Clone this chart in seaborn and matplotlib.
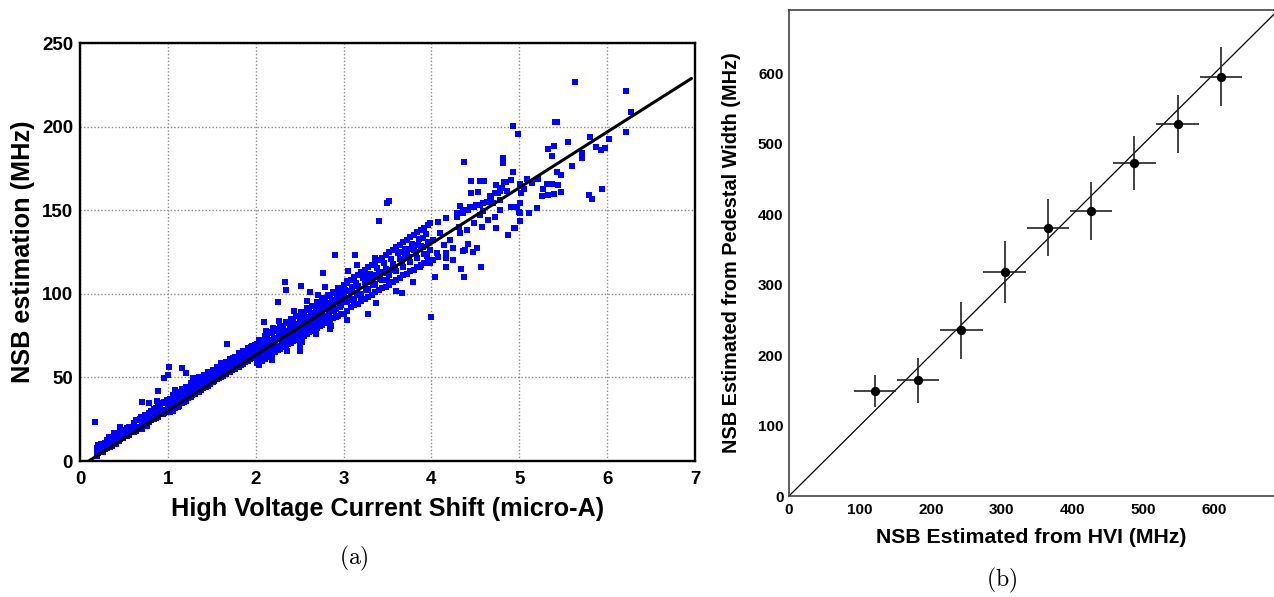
import matplotlib
matplotlib.use("Agg")
import matplotlib.pyplot as plt
import seaborn as sns
import pandas as pd
from matplotlib.ticker import MultipleLocator

# ---------------- data: panel (a) ----------------
band_low = [(0.19,6.5),(0.19,3.0),(0.21,9.3),(0.21,5.5),(0.24,6.5),(0.24,10.0),(0.26,5.1),(0.26,8.3),(0.29,11.0),(0.29,7.1),
    (0.31,7.7),(0.31,12.3),(0.34,11.0),(0.34,8.6),(0.36,13.7),(0.36,9.1),(0.39,13.9),(0.39,10.8),(0.41,10.1),(0.41,15.4),
    (0.44,14.6),(0.44,12.0),(0.46,16.5),(0.46,13.3),(0.49,18.3),(0.49,13.7),(0.51,17.6),(0.51,15.2),(0.54,19.6),(0.54,15.0),
    (0.56,15.3),(0.56,20.3),(0.59,20.0),(0.59,17.5),(0.61,22.6),(0.61,17.3),(0.64,18.2),(0.64,24.5),(0.66,24.3),(0.66,19.0),
    (0.69,26.2),(0.69,20.4),(0.71,23.8),(0.71,19.3),(0.74,27.5),(0.74,21.7),(0.76,20.8),(0.76,26.8),(0.79,28.6),(0.79,23.2),
    (0.81,29.9),(0.81,24.4),(0.84,25.1),(0.84,31.0),(0.86,31.8),(0.86,25.6),(0.89,26.1),(0.89,32.4),(0.91,32.8),(0.91,28.5),
    (0.94,34.4),(0.94,27.9),(0.96,29.0),(0.96,35.0),(0.99,36.5),(0.99,30.6),(1.01,35.2),(1.01,29.6),
    (0.20,4.5),(0.25,7.0),(0.30,9.0),(0.35,10.0),(0.40,12.5),(0.45,13.5),(0.50,16.0),(0.55,17.0),(0.60,19.5),(0.65,20.5),
    (0.70,22.5),(0.75,24.0),(0.80,26.0),(0.85,27.5),(0.90,29.5),(0.95,30.5),(1.00,33.0)]

band_b = [(1.03,36.8),(1.03,29.5),(1.03,34.5),(1.06,30.0),(1.06,39.5),(1.06,33.5),(1.08,38.0),(1.08,31.5),(1.08,36.0),
    (1.11,32.0),(1.11,41.0),(1.11,35.5),(1.13,40.5),(1.13,33.0),(1.13,37.5),(1.16,34.5),(1.16,43.0),(1.16,38.5),(1.18,41.5),
    (1.18,35.0),(1.18,39.5),(1.21,36.0),(1.21,44.5),(1.21,40.0),(1.23,43.5),(1.23,37.5),(1.23,41.0),(1.26,38.0),(1.26,46.5),
    (1.26,42.0),(1.28,45.5),(1.28,39.5),(1.28,42.5),(1.31,40.0),(1.31,48.0),(1.31,44.0),(1.33,47.0),(1.33,41.0),(1.33,44.5),
    (1.36,41.5),(1.36,50.0),(1.36,45.5),(1.38,48.5),(1.38,42.5),(1.38,46.0),(1.41,44.0),(1.41,51.5),(1.41,47.0),(1.43,50.0),
    (1.43,44.5),(1.43,47.5),(1.46,45.0),(1.46,53.0),(1.46,49.0),(1.48,52.0),(1.48,46.0),(1.48,49.5),(1.51,47.0),(1.51,54.5),
    (1.51,50.5),(1.53,53.5),(1.53,48.0),(1.53,51.0),(1.56,49.0),(1.56,56.0),(1.56,52.0),(1.58,55.0),(1.58,49.5),(1.58,53.0),
    (1.61,50.5),(1.61,58.0),(1.61,54.0),(1.63,57.0),(1.63,51.0),(1.63,54.5),(1.66,52.0),(1.66,59.5),(1.66,55.5),(1.68,58.5),
    (1.68,53.0),(1.68,56.0),(1.71,53.5),(1.71,61.0),(1.71,57.0),(1.73,60.0),(1.73,54.5),(1.73,58.0),(1.76,55.0),(1.76,62.5),
    (1.76,59.0),(1.78,61.5),(1.78,56.0),(1.78,59.5),(1.81,56.5),(1.81,64.5),(1.81,60.5),(1.83,63.5),(1.83,57.5),(1.83,61.0),
    (1.86,58.0),(1.86,66.0),(1.86,62.0),(1.88,65.0),(1.88,59.0),(1.88,63.0),(1.91,60.0),(1.91,67.5),(1.91,64.0),(1.93,66.5),
    (1.93,61.0),(1.93,64.5),(1.96,61.5),(1.96,69.0),(1.96,65.5),(1.98,68.0),(1.98,62.0),(1.98,66.0),
    (1.045,35.0),(1.095,38.0),(1.145,39.0),(1.195,42.0),(1.245,43.0),(1.295,46.0),(1.345,47.5),(1.395,49.5),(1.445,51.0),
    (1.495,53.0),(1.545,54.5),(1.595,56.0),(1.645,58.0),(1.695,59.0),(1.745,61.5),(1.795,62.5),(1.845,64.5),(1.895,66.0),
    (1.945,68.0),(1.995,69.5),
    (1.045,31.5),(1.095,33.5),(1.145,35.0),(1.195,36.5),(1.245,38.5),(1.295,40.5),(1.345,42.0),(1.395,43.5),(1.445,45.5),
    (1.495,47.5),(1.545,49.0),(1.595,50.5),(1.645,52.5),(1.695,54.0),(1.745,56.0),(1.795,58.0),(1.845,59.5),(1.895,61.0),
    (1.945,63.0),(1.995,64.5)]

band_c = [(2.01,70.0),(2.01,58.5),(2.01,65.0),(2.01,61.0),(2.04,57.5),(2.04,72.5),(2.04,66.0),(2.07,71.0),(2.07,60.0),
    (2.07,67.5),(2.07,63.5),(2.10,61.0),(2.10,75.0),(2.10,68.0),(2.13,74.0),(2.13,62.5),(2.13,69.5),(2.13,65.0),(2.16,63.0),
    (2.16,77.0),(2.16,70.0),(2.19,76.5),(2.19,64.0),(2.19,71.5),(2.19,67.0),(2.22,65.0),(2.22,79.0),(2.22,72.0),(2.25,78.0),
    (2.25,66.5),(2.25,73.0),(2.25,69.0),(2.28,67.0),(2.28,81.0),(2.28,74.5),(2.31,80.0),(2.31,68.0),(2.31,75.0),(2.31,71.5),
    (2.34,69.0),(2.34,83.0),(2.34,76.5),(2.37,82.5),(2.37,70.0),(2.37,77.0),(2.37,73.0),(2.40,70.5),(2.40,85.0),(2.40,78.5),
    (2.43,84.5),(2.43,72.0),(2.43,79.0),(2.43,75.5),(2.46,72.5),(2.46,87.0),(2.46,80.5),(2.49,86.5),(2.49,73.5),(2.49,81.0),
    (2.49,77.0),(2.52,74.0),(2.52,89.0),(2.52,82.5),(2.55,88.0),(2.55,75.0),(2.55,83.0),(2.55,79.5),(2.58,76.0),(2.58,91.5),
    (2.58,84.5),(2.61,90.5),(2.61,77.0),(2.61,85.0),(2.61,81.5),(2.64,78.0),(2.64,93.0),(2.64,86.5),(2.67,92.5),(2.67,79.0),
    (2.67,87.0),(2.67,83.0),(2.70,79.5),(2.70,95.0),(2.70,88.5),(2.73,94.5),(2.73,81.0),(2.73,89.0),(2.73,85.5),(2.76,81.5),
    (2.76,97.5),(2.76,90.5),(2.79,96.5),(2.79,82.5),(2.79,91.0),(2.79,87.0),(2.82,83.5),(2.82,99.0),(2.82,92.5),(2.85,98.5),
    (2.85,84.5),(2.85,93.0),(2.85,89.5),(2.88,85.5),(2.88,101.0),(2.88,94.5),(2.91,100.5),(2.91,86.0),(2.91,95.0),(2.91,91.0),
    (2.94,87.0),(2.94,103.5),(2.94,96.5),(2.97,102.5),(2.97,88.0),(2.97,97.0),(2.97,93.5),
    (2.025,68.0),(2.085,70.0),(2.145,72.5),(2.205,73.5),(2.265,76.5),(2.325,78.0),(2.385,80.5),(2.445,82.0),(2.505,84.5),
    (2.565,86.0),(2.625,88.5),(2.685,90.0),(2.745,92.5),(2.805,94.5),(2.865,96.5),(2.925,98.5),(2.985,100.0),
    (2.055,62.0),(2.115,64.0),(2.175,66.0),(2.235,68.0),(2.295,70.0),(2.355,72.0),(2.415,74.0),(2.475,76.0),(2.535,78.0),
    (2.595,80.0),(2.655,82.0),(2.715,84.0),(2.775,86.0),(2.835,88.0),(2.895,90.0),(2.955,92.0),
    (2.12,77.5),(2.27,84.0),(2.44,89.5),(2.58,95.5),(2.71,99.0),(2.18,60.5),(2.36,66.0),(2.53,71.0),(2.69,76.0),(2.86,81.0)]

band_d = [(3.00,105.0),(3.00,88.0),(3.00,99.0),(3.04,90.0),(3.04,107.5),(3.04,95.0),(3.08,108.0),(3.08,92.0),(3.08,101.5),
    (3.12,93.5),(3.12,110.0),(3.12,97.0),(3.16,111.0),(3.16,94.0),(3.16,104.5),(3.20,95.5),(3.20,113.0),(3.20,100.0),
    (3.24,114.0),(3.24,97.0),(3.24,107.0),(3.28,98.0),(3.28,116.0),(3.28,103.0),(3.32,117.0),(3.32,99.5),(3.32,110.0),
    (3.36,101.0),(3.36,119.0),(3.36,106.0),(3.40,120.0),(3.40,102.0),(3.40,112.5),(3.44,103.5),(3.44,121.5),(3.44,108.0),
    (3.48,123.0),(3.48,104.0),(3.48,115.0),(3.52,105.5),(3.52,125.0),(3.52,111.0),(3.56,126.0),(3.56,107.0),(3.56,118.0),
    (3.60,108.0),(3.60,128.0),(3.60,113.5),(3.64,129.0),(3.64,109.5),(3.64,121.0),(3.68,111.0),(3.68,131.0),(3.68,116.0),
    (3.72,132.0),(3.72,112.0),(3.72,123.5),(3.76,113.5),(3.76,134.0),(3.76,119.0),(3.80,135.0),(3.80,114.5),(3.80,126.0),
    (3.84,116.0),(3.84,137.0),(3.84,121.5),(3.88,138.0),(3.88,117.0),(3.88,128.5),(3.92,118.5),(3.92,139.5),(3.92,124.0),
    (3.96,141.0),(3.96,120.0),(3.96,131.0),
    (3.02,102.0),(3.06,97.5),(3.10,104.0),(3.14,106.5),(3.18,99.0),(3.22,109.5),(3.26,102.0),(3.30,112.0),(3.34,105.5),
    (3.38,115.5),(3.42,109.0),(3.46,118.5),(3.50,112.5),(3.54,121.0),(3.58,116.0),(3.62,124.5),(3.66,118.5),(3.70,127.0),
    (3.74,122.0),(3.78,129.5),(3.82,125.0),(3.86,133.0),(3.90,128.0),(3.94,135.5),(3.98,126.0),
    (3.05,101.5),(3.15,100.5),(3.25,110.5),(3.35,111.0),(3.45,113.0),(3.55,114.5),(3.65,125.0),(3.75,127.0),(3.85,129.0),
    (3.95,122.5),(3.10,96.0),(3.30,107.0),(3.50,108.5),(3.70,121.5),(3.90,133.5)]

band_e = [(3.98,142.2),(4.08,143.2),(4.17,145.2),(4.29,148.2),(4.36,150.2),(4.44,151.8),(4.32,152.6),(4.51,153.2),
    (4.59,154.6),(4.67,158.2),(4.72,160.2),(4.78,161.2),(4.97,152.2),(5.00,149.0),(4.70,154.2),(4.78,150.2),(4.64,144.2),
    (4.57,140.2),(4.72,146.2),(4.55,147.0),(4.48,142.2),(4.40,138.2),(4.33,136.3),(4.31,140.2),(4.21,132.3),(4.14,129.3),
    (4.25,127.3),(4.17,124.3),(4.10,136.3),(4.06,124.3),(4.02,120.3),(3.95,118.3),(3.87,116.3),(4.17,116.3),(4.02,132.1),
    (4.29,146.2),(4.36,148.2),(4.42,150.2),(4.48,152.2),(4.55,153.2),(4.63,155.2),(4.68,157.2),(4.76,160.2),(4.80,163.2),
    (4.86,161.2),(4.78,156.2),(4.90,152.2),(4.59,149.3),(4.85,167.0),(4.17,121.3),(4.25,120.3),(4.36,125.3),(4.07,122.3),
    (3.98,118.3),(4.95,139.6)]

outliers = [(5.63,226.6),(6.22,221.0),(6.27,208.7),(6.22,196.9),(6.02,192.3),(5.97,187.5),(5.93,186.1),(5.87,187.9),
    (5.80,193.7),(5.94,162.6),(5.83,156.8),(5.79,159.2),(5.71,184.5),(5.71,181.5),(5.60,176.3),(5.56,190.7),(5.41,202.7),
    (5.43,202.7),(5.40,188.3),(5.33,186.7),(5.37,182.7),(5.43,173.1),(5.47,171.0),(5.44,164.8),(5.47,160.8),(5.39,159.4),
    (5.33,158.8),(5.26,158.2),(5.27,162.4),(5.32,165.4),(5.37,165.8),(5.20,151.2),(5.11,148.2),(5.21,168.6),(5.14,166.2),
    (5.09,168.4),(5.05,162.8),(4.93,200.1),(4.98,195.7),(5.01,165.8),(5.02,160.2),(5.01,154.2),(5.01,148.2),(5.01,143.6),
    (4.94,139.4),(4.87,135.1),(4.82,181.3),(4.82,178.2),(4.93,172.9),(4.90,168.0),(4.83,166.6),(4.74,165.0),(4.74,139.3),
    (4.56,116.3),(4.37,179.1),(4.45,167.2),(4.55,167.6),(4.60,167.6),(4.45,160.0),(4.53,160.8),(4.37,110.1),(4.52,127.6),
    (4.47,124.9),(4.04,109.9),(3.67,100.7),(4.34,115.1),(4.38,126.3),(4.42,129.7),(3.99,86.4),(3.79,107.0),(3.60,101.7),
    (3.49,154.2),(3.52,155.4),(3.40,143.6),(3.13,123.3),(2.90,123.1),(2.77,112.7),(2.79,103.9),(2.52,104.9),(2.62,101.3),
    (2.33,107.3),(2.35,102.3),(3.05,113.9),(3.15,117.3),(3.36,121.3),(2.25,95.2),(2.09,83.4),(2.20,79.4),(2.85,79.0),
    (3.04,84.4),(3.28,88.0),(3.37,94.4),(2.50,66.0),(2.50,69.4),(3.04,106.7),
    (0.17,23.5),(0.19,7.6),(0.33,14.5),(0.39,16.6),(0.455,20.2),(0.71,35.1),(0.78,34.5),(0.89,41.9),(0.88,35.9),(0.96,49.5),
    (1.005,51.5),(1.01,56.4),(1.16,55.5),(1.21,52.9),(1.29,49.5),(1.67,70.0),(1.61,58.8),(1.08,42.5),(0.68,25.0)]

fit_x = [0.10, 6.96]
fit_y = [0.0, 228.8]

# ---------------- data: panel (b) ----------------
hvi = [121, 182, 243, 304, 365, 426, 487, 548, 609]
ped = [149, 164, 235, 318, 381, 405, 473, 528, 595]
hvi_err = [30, 30, 30, 30, 30, 30, 30, 30, 30]
ped_err = [23, 32, 41, 44, 40, 41, 38, 41, 42]
diag = [0, 690]

# ---------------- style ----------------
sns.set_theme(style="white")
plt.rcParams["font.family"] = ["Liberation Sans", "DejaVu Sans"]
plt.rcParams["font.weight"] = "bold"
plt.rcParams["axes.labelweight"] = "bold"
plt.rcParams["mathtext.fontset"] = "cm"
for k in ("text.color", "axes.labelcolor", "xtick.color", "ytick.color"):
    plt.rcParams[k] = "black"

fig = plt.figure(figsize=(12.74, 5.97), dpi=100)
axa = fig.add_axes([80/1274, 1-461/597, 615/1274, 418/597])
axb = fig.add_axes([789/1274, 1-496/597, 485/1274, 486/597])

# ---------------- panel (a) ----------------
pts = band_low + band_b + band_c + band_d + band_e + outliers
dfa = pd.DataFrame(pts, columns=["x", "y"])
sns.scatterplot(data=dfa, x="x", y="y", ax=axa, marker="s", s=17, color="#0000ff",
                linewidth=0, zorder=3)
sns.lineplot(x=fit_x, y=fit_y, ax=axa, color="black", linewidth=2.2, zorder=4)
axa.set_xlim(0, 7)
axa.set_ylim(0, 250)
axa.xaxis.set_major_locator(MultipleLocator(1))
axa.xaxis.set_minor_locator(MultipleLocator(0.2))
axa.yaxis.set_major_locator(MultipleLocator(50))
axa.yaxis.set_minor_locator(MultipleLocator(10))
axa.grid(True, which="major", color="#8a8a8a", linestyle=(0, (1, 1.5)), linewidth=1.0, zorder=0)
axa.set_axisbelow(True)
axa.tick_params(axis="both", which="both", direction="in", colors="black", width=1.2,
                labelsize=13.5)
axa.tick_params(axis="x", which="major", length=8, pad=7)
axa.tick_params(axis="x", which="minor", length=4.3)
axa.tick_params(axis="y", which="major", length=13.7, pad=5)
axa.tick_params(axis="y", which="minor", length=7.2)
for sp in axa.spines.values():
    sp.set_linewidth(1.7)
    sp.set_color("black")
axa.set_xlabel("High Voltage Current Shift (micro-A)", fontsize=18.2, labelpad=7)
axa.set_ylabel("NSB estimation (MHz)", fontsize=18.2, labelpad=5)

# ---------------- panel (b) ----------------
axb.errorbar(hvi, ped, xerr=hvi_err, yerr=ped_err, fmt="none", ecolor="#222222",
             elinewidth=1.2, capsize=0, zorder=3)
sns.lineplot(x=diag, y=diag, ax=axb, color="black", linewidth=0.9, zorder=2)
sns.scatterplot(x=hvi, y=ped, ax=axb, color="black", s=45, linewidth=0, zorder=4)
axb.set_xlim(0, 684)
axb.set_ylim(0, 690)
axb.xaxis.set_major_locator(MultipleLocator(100))
axb.xaxis.set_minor_locator(MultipleLocator(20))
axb.yaxis.set_major_locator(MultipleLocator(100))
axb.yaxis.set_minor_locator(MultipleLocator(20))
axb.tick_params(axis="both", which="both", direction="in", colors="black", width=0.9,
                labelsize=11)
axb.tick_params(axis="x", which="major", length=6, pad=5)
axb.tick_params(axis="x", which="minor", length=2.4)
axb.tick_params(axis="y", which="major", length=7, pad=4)
axb.tick_params(axis="y", which="minor", length=4)
for name, sp in axb.spines.items():
    sp.set_linewidth(1.1)
    sp.set_color("#333333")
axb.spines["right"].set_visible(False)
axb.set_xlabel("NSB Estimated from HVI (MHz)", fontsize=15.3, labelpad=8)
axb.set_ylabel("NSB Estimated from Pedestal Width (MHz)", fontsize=14.3, labelpad=12)

# captions
fig.text(354/1274, 1-558/597, r"$\mathrm{(a)}$", ha="center", va="center", fontsize=17)
fig.text(1002/1274, 1-580/597, r"$\mathrm{(b)}$", ha="center", va="center", fontsize=17)

fig.savefig("out.png", dpi=100)
